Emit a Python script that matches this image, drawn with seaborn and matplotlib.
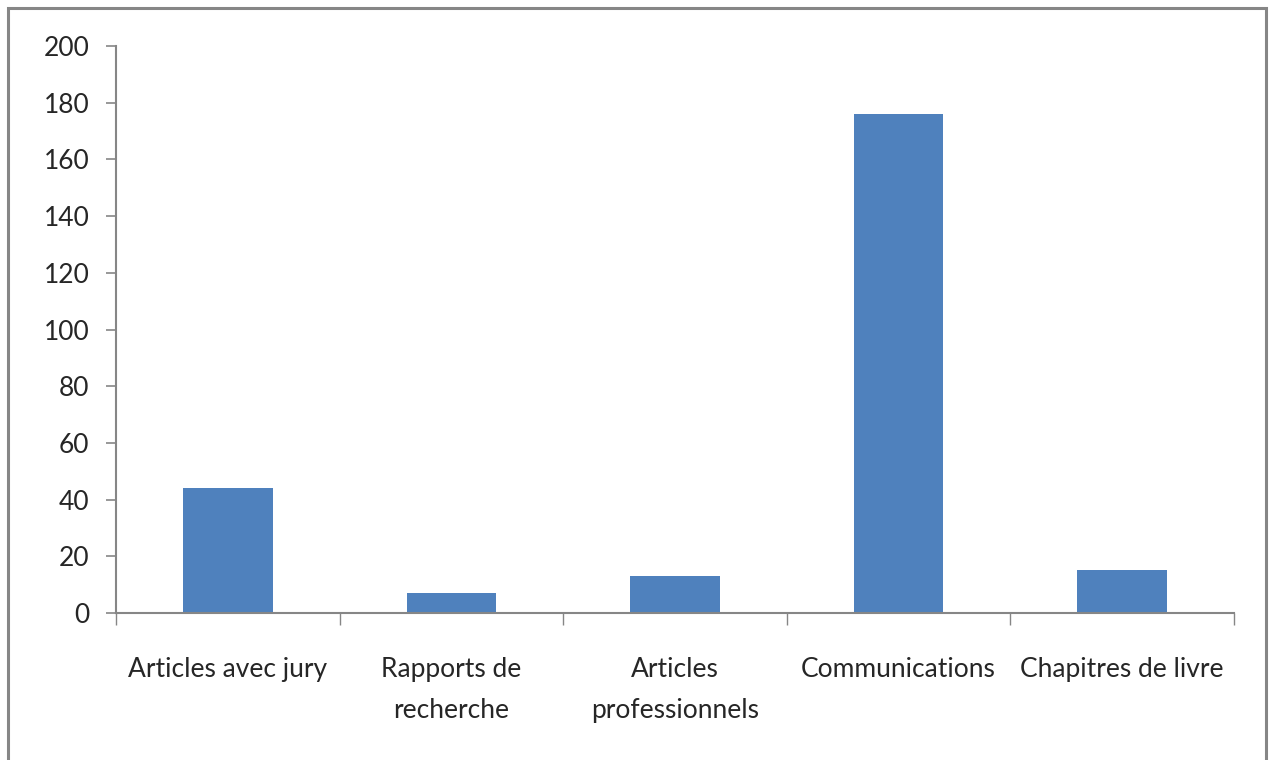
import matplotlib.pyplot as plt
import pandas as pd
import seaborn as sns
from matplotlib.patches import Rectangle

categories = [
    "Articles avec jury",
    "Rapports de\nrecherche",
    "Articles\nprofessionnels",
    "Communications",
    "Chapitres de livre",
]
counts = [44, 7, 13, 176, 15]
yticks = list(range(0, 201, 20))

AXIS_GREY = "#868686"
BAR_BLUE = "#4F81BD"


def main():
    sns.set_style("white")
    plt.rcParams["font.family"] = ["Lato", "DejaVu Sans"]

    df = pd.DataFrame({"cat": categories, "n": counts})

    fig = plt.figure(figsize=(12.71, 7.6), dpi=100)
    ax = fig.add_axes([116 / 1271, 147 / 760, 1118 / 1271, 567 / 760])

    sns.barplot(data=df, x="cat", y="n", color=BAR_BLUE, width=0.4,
                saturation=1, linewidth=0, ax=ax)

    ax.set_xlim(-0.5, len(categories) - 0.5)
    ax.set_ylim(0, 200)
    ax.set_yticks(yticks)
    ax.set_xlabel("")
    ax.set_ylabel("")

    for side in ("top", "right"):
        ax.spines[side].set_visible(False)
    for side in ("left", "bottom"):
        ax.spines[side].set_color(AXIS_GREY)
        ax.spines[side].set_linewidth(1.5)

    ax.tick_params(axis="y", direction="out", length=7, width=1.2,
                   color=AXIS_GREY, pad=12, labelsize=19, left=True)
    ax.tick_params(axis="x", which="major", length=0, pad=32, labelsize=19)
    ax.set_xticks([i - 0.5 for i in range(len(categories) + 1)], minor=True)
    ax.tick_params(axis="x", which="minor", direction="out", length=8.5,
                   width=1.0, color=AXIS_GREY, bottom=True)
    for lbl in ax.get_xticklabels():
        lbl.set_linespacing(1.78)
        lbl.set_verticalalignment("top")

    # outer chart frame
    fig.patches.append(Rectangle((8 / 1271, -0.05), 1258 / 1271, 1.05 - 8 / 760,
                                 transform=fig.transFigure, fill=False,
                                 edgecolor=AXIS_GREY, linewidth=2.2))

    fig.savefig("out.png", dpi=100)
    plt.close(fig)


if __name__ == "__main__":
    main()
